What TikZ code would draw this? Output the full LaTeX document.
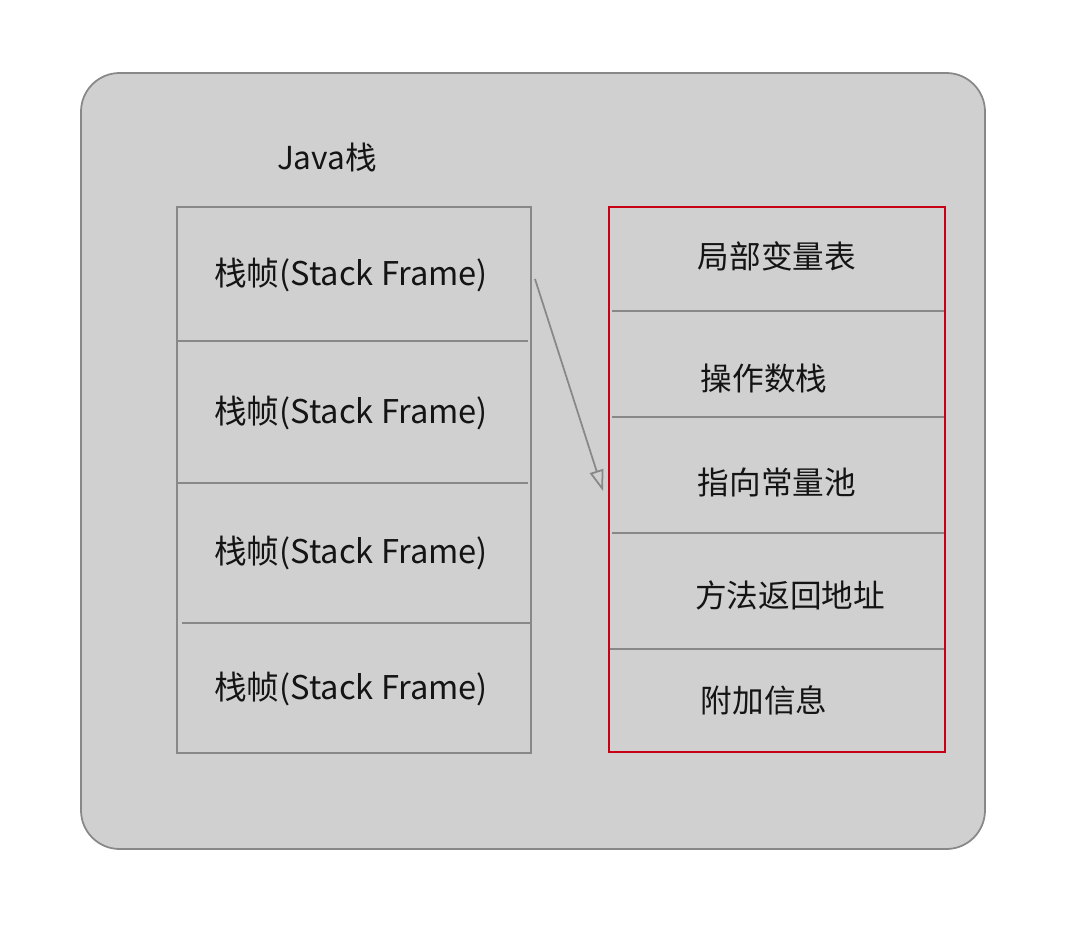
\documentclass[tikz,border=0pt]{standalone}
\usepackage{fontspec}
\setmainfont{Noto Sans CJK SC}
\usepackage{xcolor}
\usetikzlibrary{arrows.meta}
\definecolor{bgcolor}{RGB}{208,208,208}
\definecolor{linecolor}{RGB}{136,136,136}
\definecolor{framered}{RGB}{200,0,22}

\begin{document}
\begin{tikzpicture}[
    x=0.02cm, y=-0.02cm,
    panel/.style={draw=linecolor, fill=bgcolor, line width=1pt, rounded corners=22pt},
    stackbox/.style={draw=linecolor, line width=1pt},
    framebox/.style={draw=framered, line width=1pt},
    divider/.style={draw=linecolor, line width=1pt},
    label/.style={font=\fontsize{18}{22}\selectfont, text=black!92, inner sep=0pt},
    arrow/.style={-{Triangle[open, length=12pt, width=8pt]}, draw=linecolor, line width=1pt}
]
\useasboundingbox (0,0) rectangle (1072,926);

% Outer panel
\draw[panel] (81,73) rectangle (985,849);
\node[label] (title) at (327,157) {Java栈};

% Java stack with frames
\draw[stackbox] (177,207) rectangle (531,753);
\draw[divider] (177,341) -- (528,341);
\draw[divider] (177,483) -- (528,483);
\draw[divider] (182,623) -- (531,623);

\node[label, font=\fontsize{18.6}{22}\selectfont] (frame1) at (351,275) {栈帧(Stack Frame)};
\node[label, font=\fontsize{18.6}{22}\selectfont] (frame2) at (351,413) {栈帧(Stack Frame)};
\node[label, font=\fontsize{18.6}{22}\selectfont] (frame3) at (351,553) {栈帧(Stack Frame)};
\node[label, font=\fontsize{18.6}{22}\selectfont] (frame4) at (351,689) {栈帧(Stack Frame)};

% Frame contents
\draw[divider] (612,311) -- (945,311);
\draw[divider] (612,417) -- (945,417);
\draw[divider] (612,533) -- (945,533);
\draw[divider] (609,649) -- (945,649);
\draw[framebox] (609,207) rectangle (945,752);

\node[label] (locals) at (777,256) {局部变量表};
\node[label] (operands) at (764,379) {操作数栈};
\node[label] (constpool) at (777,482) {指向常量池};
\node[label] (retaddr) at (790,595) {方法返回地址};
\node[label] (extra) at (764,700) {附加信息};

% Arrow
\coordinate (arrowtail) at (535,279);
\coordinate (arrowtip) at (603,491);
\draw[arrow] (arrowtail) -- (arrowtip);

\end{tikzpicture}
\end{document}
